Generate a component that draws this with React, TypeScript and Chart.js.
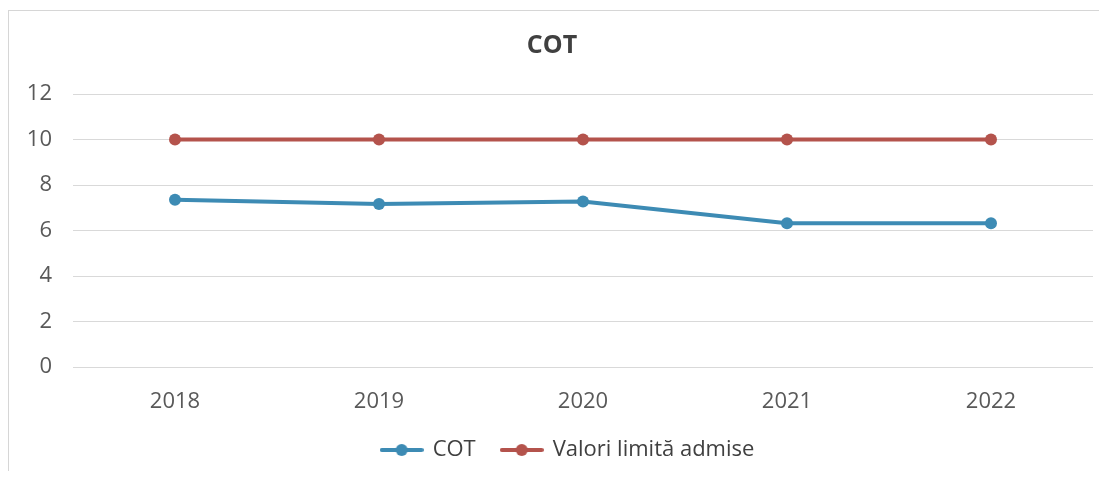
import React, { useEffect, useRef } from "react";
import { Chart, registerables } from "chart.js";

Chart.register(...registerables);

const years = ["2018", "2019", "2020", "2021", "2022"];
const cotValues = [7.35, 7.17, 7.27, 6.32, 6.32];
const limitValues = [10, 10, 10, 10, 10];
const yTicks = [0, 2, 4, 6, 8, 10, 12];

const BLUE = "#3d8bb4";
const RED = "#b4534c";
const FONT = "'Open Sans', 'Noto Sans', sans-serif";

function legendMarker(color: string): HTMLCanvasElement {
  const c = document.createElement("canvas");
  c.width = 44;
  c.height = 14;
  const ctx = c.getContext("2d")!;
  ctx.strokeStyle = color;
  ctx.lineWidth = 4;
  ctx.lineCap = "round";
  ctx.beginPath();
  ctx.moveTo(2, 7);
  ctx.lineTo(42, 7);
  ctx.stroke();
  ctx.fillStyle = color;
  ctx.beginPath();
  ctx.arc(22, 7, 6, 0, Math.PI * 2);
  ctx.fill();
  return c;
}

const legendFix = {
  id: "legendFix",
  beforeLayout(chart: any) {
    const lg = chart.legend;
    if (lg && !lg._patched) {
      const f = lg.fit.bind(lg);
      lg.fit = function () {
        f();
        this.height = 58;
      };
      lg._patched = true;
    }
  },
  afterLayout(chart: any) {
    const lg = chart.legend;
    if (lg) lg.left += 32;
  },
};

export default function App() {
  const ref = useRef<HTMLCanvasElement>(null);
  useEffect(() => {
    if (!ref.current) return;
    const markers = [legendMarker(BLUE), legendMarker(RED)];
    const chart = new Chart(ref.current, {
      type: "line",
      data: {
        labels: years,
        datasets: [
          {
            label: "COT",
            data: cotValues,
            borderColor: BLUE,
            backgroundColor: BLUE,
            pointBackgroundColor: BLUE,
            pointBorderWidth: 0,
            pointRadius: 6,
            borderWidth: 4,
            tension: 0,
            pointStyle: "circle",
          },
          {
            label: "Valori limită admise",
            data: limitValues,
            borderColor: RED,
            backgroundColor: RED,
            pointBackgroundColor: RED,
            pointBorderWidth: 0,
            pointRadius: 6,
            borderWidth: 4,
            tension: 0,
            pointStyle: "circle",
          },
        ],
      },
      options: {
        animation: false,
        responsive: false,
        maintainAspectRatio: false,
        layout: { padding: { left: 0, right: 4, top: 0, bottom: 0 } },
        plugins: {
          title: {
            display: true,
            text: "COT",
            color: "#404040",
            font: { family: FONT, size: 25, weight: "bold" },
            padding: { top: 20, bottom: 33 },
          },
          legend: {
            position: "bottom",
            labels: {
              usePointStyle: true,
              pointStyleWidth: 40,
              padding: 26,
              color: "#404040",
              font: { family: FONT, size: 22 },
              generateLabels: (ch: any) =>
                ch.data.datasets.map((ds: any, i: number) => ({
                  text: ds.label,
                  pointStyle: markers[i],
                  fillStyle: ds.borderColor,
                  strokeStyle: ds.borderColor,
                  lineWidth: 0,
                  fontColor: "#404040",
                  datasetIndex: i,
                  hidden: false,
                })),
            },
          },
          tooltip: { enabled: false },
        },
        scales: {
          x: {
            offset: true,
            grid: { display: false, drawTicks: false, offset: true },
            border: { display: false },
            ticks: {
              color: "#595959",
              font: { family: FONT, size: 22 },
              padding: 22,
            },
            afterFit: (s: any) => {
              s.height = 46;
            },
          },
          y: {
            min: 0,
            max: 12,
            grid: { color: "#d9d9d9", lineWidth: 1, drawTicks: false },
            border: { display: false },
            afterBuildTicks: (s: any) => {
              s.ticks = yTicks.map((v) => ({ value: v }));
            },
            ticks: {
              color: "#595959",
              font: { family: FONT, size: 22 },
              padding: 21,
              stepSize: 2,
            },
            afterFit: (s: any) => {
              s.width = 64;
            },
          },
        },
      },
      plugins: [legendFix],
    });
    return () => chart.destroy();
  }, []);

  return (
    <div
      style={{
        marginTop: 2,
        width: 1090,
        height: 460,
        borderTop: "1px solid #d6d6d6",
        borderLeft: "1px solid #d6d6d6",
        background: "#fff",
      }}
    >
      <canvas ref={ref} width={1090} height={460} style={{ display: "block" }} />
    </div>
  );
}
